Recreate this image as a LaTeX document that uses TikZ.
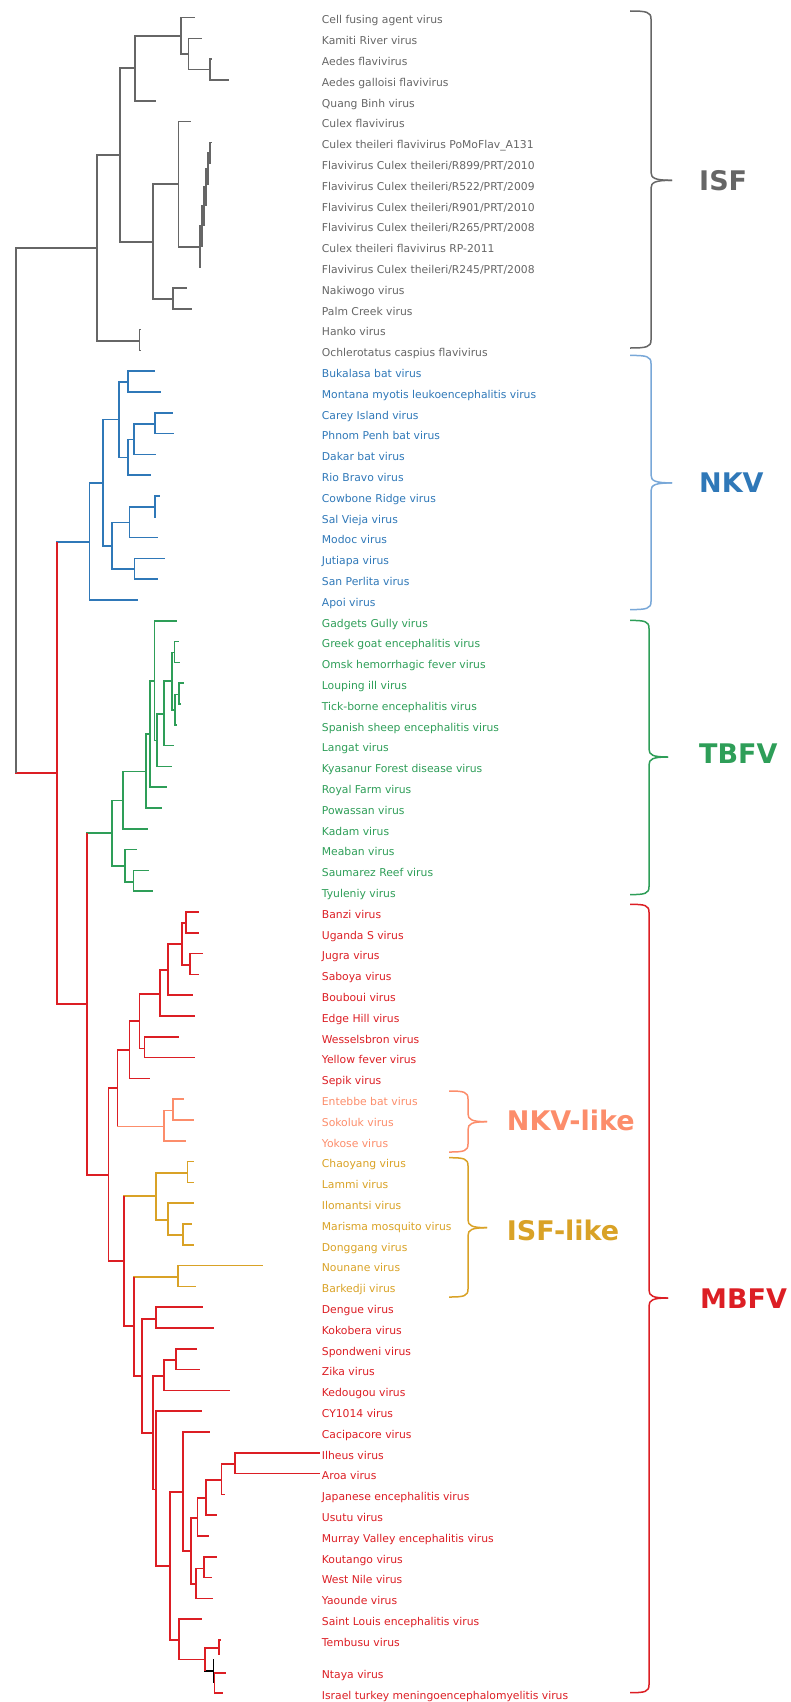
\documentclass[tikz,border=0pt]{standalone}
\usepackage{fontspec}
\setmainfont{DejaVu Sans}

\definecolor{isfc}{HTML}{666666}
\definecolor{nkvc}{HTML}{2F78B8}
\definecolor{nkvbr}{HTML}{79A8D8}
\definecolor{tbfvc}{HTML}{2E9E58}
\definecolor{mbfvc}{HTML}{DC1E24}
\definecolor{nkvlc}{HTML}{FC8D6B}
\definecolor{isflc}{HTML}{D9A226}

% brace: colour, x of the tips, top, middle, bottom, width
\newcommand\cladebrace[6]{%
  \draw[#1, line width=1.5pt] (#2,#3) .. controls ({#2+0.4*#6},#3) and ({#2+0.5*#6},{#3+1}) .. ({#2+0.5*#6},{#3+8})
    -- ({#2+0.5*#6},{#4-8}) .. controls ({#2+0.5*#6},{#4-2}) and ({#2+0.6*#6},#4) .. ({#2+#6},#4);
  \draw[#1, line width=1.5pt] ({#2+#6},#4) .. controls ({#2+0.6*#6},#4) and ({#2+0.5*#6},{#4+2}) .. ({#2+0.5*#6},{#4+8})
    -- ({#2+0.5*#6},{#5-8}) .. controls ({#2+0.5*#6},{#5-1}) and ({#2+0.4*#6},#5) .. (#2,#5);
}

\begin{document}
\begin{tikzpicture}[x=1pt, y=-1pt,
    branch/.style={line width=1.6pt},
    leaf/.style={anchor=base west, inner sep=0pt, font=\fontsize{10.8}{12}\selectfont},
    clade/.style={anchor=base west, inner sep=0pt, font=\fontsize{27}{30}\selectfont\bfseries}]
    \useasboundingbox (0,0) rectangle (791,1702);

    % inner nodes
    \coordinate (root) at (15.7,510);
    \coordinate (isf) at (96.7,247.7);
    \coordinate (i1) at (120,155);
    \coordinate (i2) at (135,68.3);
    \coordinate (i3) at (180.7,36);
    \coordinate (i4) at (188.3,54);
    \coordinate (i5) at (210,69.7);
    \coordinate (i6) at (152.7,241.7);
    \coordinate (i7) at (172.7,298.7);
    \coordinate (i8) at (178.3,184);
    \coordinate (i9) at (199.7,247);
    \coordinate (i10) at (201.7,226);
    \coordinate (i11) at (203.7,206);
    \coordinate (i12) at (205.7,186.7);
    \coordinate (i13) at (207.7,168.5);
    \coordinate (i14) at (209.7,152.8);
    \coordinate (i15) at (139.3,340.7);

    \coordinate (r1) at (56.7,772.7);
    \coordinate (nkv) at (89.3,541.7);
    \coordinate (k1) at (102.7,482.7);
    \coordinate (k2) at (118.7,419.3);
    \coordinate (k3) at (128,382);
    \coordinate (k4) at (127.7,457.3);
    \coordinate (k5) at (133.7,439.3);
    \coordinate (k6) at (154.7,424);
    \coordinate (k7) at (112,546);
    \coordinate (k8) at (129.3,522.3);
    \coordinate (k9) at (154.7,506.7);
    \coordinate (k10) at (134.3,569);

    \coordinate (r2) at (86.7,1004);
    \coordinate (tbfv) at (111.7,832.7);
    \coordinate (b1) at (122.7,800.3);
    \coordinate (b2) at (145.7,771.3);
    \coordinate (b3) at (149.7,734);
    \coordinate (b4) at (154.3,680.7);
    \coordinate (b5) at (157,740.3);
    \coordinate (b6) at (163.7,713.7);
    \coordinate (b7) at (171.7,680.7);
    \coordinate (b8) at (174.3,652.3);
    \coordinate (b9) at (174.7,710);
    \coordinate (b10) at (178.7,694.3);
    \coordinate (b11) at (124.7,866);
    \coordinate (b12) at (133.3,881.7);

    \coordinate (r3) at (108.3,1174.7);
    \coordinate (m1) at (117.3,1087.7);
    \coordinate (m2) at (129.3,1050);
    \coordinate (m3) at (139.3,1020.7);
    \coordinate (m4) at (159.7,993.7);
    \coordinate (m5) at (167.7,969.7);
    \coordinate (m6) at (181.7,943.7);
    \coordinate (m7) at (185.7,923);
    \coordinate (m8) at (189.7,965);
    \coordinate (m9) at (144.3,1048.3);
    \coordinate (s1) at (163.7,1126.3);
    \coordinate (s2) at (172.7,1110.3);
    \coordinate (r4) at (124,1261);
    \coordinate (g1) at (155.7,1196);
    \coordinate (g2) at (187.3,1172.7);
    \coordinate (g3) at (168,1220);
    \coordinate (g4) at (183,1235);
    \coordinate (r5) at (134,1326);
    \coordinate (g5) at (177.7,1276.7);
    \coordinate (r6) at (141.7,1375.7);
    \coordinate (m10) at (155.7,1318.7);
    \coordinate (r7) at (152.7,1432.7);
    \coordinate (m11) at (164,1375.7);
    \coordinate (m12) at (175.7,1360);
    \coordinate (r8) at (155.7,1489.3);
    \coordinate (r9) at (169.7,1566);
    \coordinate (m13) at (182.7,1491.7);
    \coordinate (m14) at (190.7,1551);
    \coordinate (m15) at (197.3,1517.7);
    \coordinate (m16) at (206,1498);
    \coordinate (m17) at (221.3,1479.7);
    \coordinate (m18) at (234.7,1464);
    \coordinate (m19) at (195.7,1584);
    \coordinate (m20) at (203.7,1568.3);
    \coordinate (r10) at (179,1640);
    \coordinate (r11) at (204.7,1659.3);
    \coordinate (m21) at (219,1647.7);
    \coordinate (m22) at (213.3,1671);
    \coordinate (m22a) at (213.3,1659);
    \coordinate (m22b) at (213.3,1683.3);
    \coordinate (m23) at (214.3,1683);
    \coordinate (tx) at (220,1654.3);

    % branches
    \foreach \p/\c in {root/isf, isf/i1, i1/i2, i2/i3, i3/i4, i4/i5, i1/i6, i6/i8, i6/i7,
        i8/i9, i9/i10, i10/i11, i11/i12, i12/i13, i13/i14, isf/i15}
        \draw[branch, isfc] (\p) |- (\c);
    \foreach \p/\c in {r1/nkv, nkv/k1, k1/k2, k2/k3, k2/k4, k4/k5, k5/k6, k1/k7, k7/k8, k8/k9, k7/k10}
        \draw[branch, nkvc] (\p) |- (\c);
    \foreach \p/\c in {r2/tbfv, tbfv/b1, b1/b2, b2/b3, b3/b4, b4/b5, b5/b6, b6/b7, b7/b8, b7/b9,
        b9/b10, tbfv/b11, b11/b12}
        \draw[branch, tbfvc] (\p) |- (\c);
    \foreach \p/\c in {root/r1, r1/r2, r2/r3, r3/m1, m1/m2, m2/m3, m3/m4, m4/m5, m5/m6, m6/m7, m6/m8,
        m3/m9, r3/r4, r4/r5, r5/r6, r6/m10, r6/r7, r7/m11, m11/m12, r7/r8, r8/r9, r9/m13, m13/m14,
        m14/m15, m15/m16, m16/m17, m17/m18, m14/m19, m19/m20, r9/r10, r10/r11, r11/m21, m21/tx}
        \draw[branch, mbfvc] (\p) |- (\c);
    \foreach \p/\c in {m1/s1, s1/s2}
        \draw[branch, nkvlc] (\p) |- (\c);
    \foreach \p/\c in {r4/g1, g1/g2, g1/g3, g3/g4, r5/g5}
        \draw[branch, isflc] (\p) |- (\c);
    \draw[line width=1.2pt, black] (r11) |- (m22);
    \draw[line width=1.2pt, black] (m22a) -- (m22b);

    % leaves
    \foreach \i/\tx/\p/\lab in {0/195/i3/Cell fusing agent virus, 1/202.3/i4/Kamiti River virus,
        2/212.3/i5/Aedes flavivirus, 3/229.3/i5/Aedes galloisi flavivirus, 4/155.7/i2/Quang Binh virus,
        5/191/i8/Culex flavivirus, 6/211.5/i14/Culex theileri flavivirus PoMoFlav\_A131,
        7/211/i14/{Flavivirus Culex theileri/R899/PRT/2010}, 8/209.3/i13/{Flavivirus Culex theileri/R522/PRT/2009},
        9/207.3/i12/{Flavivirus Culex theileri/R901/PRT/2010}, 10/205.3/i11/{Flavivirus Culex theileri/R265/PRT/2008},
        11/203.3/i10/Culex theileri flavivirus RP-2011, 12/200.5/i9/{Flavivirus Culex theileri/R245/PRT/2008},
        13/187.3/i7/Nakiwogo virus, 14/191.7/i7/Palm Creek virus, 15/141/i15/Hanko virus,
        16/141/i15/Ochlerotatus caspius flavivirus} {
        \coordinate (t\i) at (\tx,{17.6+20.8*\i});
        \draw[branch, isfc] (\p) |- (t\i);
        \node[leaf, text=isfc] (l\i) at (321.7,{23.8+20.8*\i}) {\lab};
    }
    \foreach \i/\tx/\p/\lab in {17/155/k3/Bukalasa bat virus, 18/160.7/k3/Montana myotis leukoencephalitis virus,
        19/172.7/k6/Carey Island virus, 20/173.7/k6/Phnom Penh bat virus, 21/155.7/k5/Dakar bat virus,
        22/150.7/k4/Rio Bravo virus, 23/159.7/k9/Cowbone Ridge virus, 24/156.3/k9/Sal Vieja virus,
        25/158.3/k8/Modoc virus, 26/164.7/k10/Jutiapa virus, 27/157.7/k10/San Perlita virus,
        28/138.3/nkv/Apoi virus} {
        \coordinate (t\i) at (\tx,{17.6+20.8*\i});
        \draw[branch, nkvc] (\p) |- (t\i);
        \node[leaf, text=nkvc] (l\i) at (321.7,{23.8+20.8*\i}) {\lab};
    }
    \foreach \i/\tx/\p/\lab in {29/177.3/b4/Gadgets Gully virus, 30/178.7/b8/Greek goat encephalitis virus,
        31/180/b8/Omsk hemorrhagic fever virus, 32/183.7/b10/Louping ill virus,
        33/180.7/b10/Tick-borne encephalitis virus, 34/177.3/b9/Spanish sheep encephalitis virus,
        35/174.3/b6/Langat virus, 36/171.7/b5/Kyasanur Forest disease virus, 37/166.7/b3/Royal Farm virus,
        38/161.7/b2/Powassan virus, 39/147.7/b1/Kadam virus, 40/136.7/b11/Meaban virus,
        41/148.7/b12/Saumarez Reef virus, 42/152.7/b12/Tyuleniy virus} {
        \coordinate (t\i) at (\tx,{17.6+20.8*\i});
        \draw[branch, tbfvc] (\p) |- (t\i);
        \node[leaf, text=tbfvc] (l\i) at (321.7,{23.8+20.8*\i}) {\lab};
    }
    \foreach \i/\tx/\p/\lab in {43/198.7/m7/Banzi virus, 44/198.7/m7/Uganda S virus, 45/203/m8/Jugra virus,
        46/199/m8/Saboya virus, 47/193.3/m5/Bouboui virus, 48/194.7/m4/Edge Hill virus,
        49/179/m9/Wesselsbron virus, 50/194.7/m9/Yellow fever virus, 51/150.3/m2/Sepik virus,
        62/203.3/m10/Dengue virus, 63/214/m10/Kokobera virus, 64/196.7/m12/Spondweni virus,
        65/200.3/m12/Zika virus, 66/230/m11/Kedougou virus, 67/202/r8/CY1014 virus,
        68/210/m13/Cacipacore virus, 69/320/m18/Ilheus virus, 70/320/m18/Aroa virus,
        71/224.7/m17/Japanese encephalitis virus, 72/217.3/m16/Usutu virus,
        73/209.3/m15/Murray Valley encephalitis virus, 74/216.7/m20/Koutango virus,
        75/211.7/m20/West Nile virus, 76/213.3/m19/Yaounde virus, 77/202.3/r10/Saint Louis encephalitis virus,
        78/220.7/m21/Tembusu virus} {
        \coordinate (t\i) at (\tx,{17.6+20.8*\i});
        \draw[branch, mbfvc] (\p) |- (t\i);
        \node[leaf, text=mbfvc] (l\i) at (321.7,{23.8+20.8*\i}) {\lab};
    }
    \foreach \i/\tx/\p/\lab in {52/183.7/s2/Entebbe bat virus, 53/194.3/s2/Sokoluk virus, 54/186/s1/Yokose virus} {
        \coordinate (t\i) at (\tx,{17.6+20.8*\i});
        \draw[branch, nkvlc] (\p) |- (t\i);
        \node[leaf, text=nkvlc] (l\i) at (321.7,{23.8+20.8*\i}) {\lab};
    }
    \foreach \i/\tx/\p/\lab in {55/194.3/g2/Chaoyang virus, 56/194.3/g2/Lammi virus, 57/194.3/g3/Ilomantsi virus,
        58/192/g4/Marisma mosquito virus, 59/193.7/g4/Donggang virus, 60/263/g5/Nounane virus,
        61/196/g5/Barkedji virus} {
        \coordinate (t\i) at (\tx,{17.6+20.8*\i});
        \draw[branch, isflc] (\p) |- (t\i);
        \node[leaf, text=isflc] (l\i) at (321.7,{23.8+20.8*\i}) {\lab};
    }
    \coordinate (t79) at (226,1672.7);
    \coordinate (t80) at (223,1693);
    \draw[branch, mbfvc] (m23) |- (t79);
    \draw[branch, mbfvc] (m23) |- (t80);
    \node[leaf, text=mbfvc] (l79) at (321.7,1678.9) {Ntaya virus};
    \node[leaf, text=mbfvc] (l80) at (321.7,1699.2) {Israel turkey meningoencephalomyelitis virus};

    % parent colour on mixed nodes
    \draw[branch, isfc] (root |- isf) -- (root |- r1);
    \draw[branch, mbfvc] (r1 |- nkv) -- (r1 |- r2);
    \draw[branch, mbfvc] (r2 |- tbfv) -- (r2 |- r3);
    \draw[branch, mbfvc] (m1 |- m2) -- (m1 |- s1);
    \draw[branch, mbfvc] (r4 |- g1) -- (r4 |- r5);
    \draw[branch, mbfvc] (r5 |- g5) -- (r5 |- r6);
    \draw[branch, mbfvc] (r11 |- m21) -- (r11 |- m22);

    % clade braces and names
    \cladebrace{isfc}{630}{11}{180.3}{348}{42}
    \cladebrace{nkvbr}{630}{355.4}{482.9}{609.6}{42}
    \cladebrace{tbfvc}{630}{620.4}{757}{894.6}{38}
    \cladebrace{mbfvc}{630}{904.3}{1298}{1692.7}{38}
    \cladebrace{nkvlc}{449}{1091}{1121.7}{1152}{38}
    \cladebrace{isflc}{449}{1157.7}{1227.7}{1297}{38}

    \node[clade, text=isfc] (ISF) at (699,190) {ISF};
    \node[clade, text=nkvc] (NKV) at (699,492) {NKV};
    \node[clade, text=tbfvc] (TBFV) at (699,763.6) {TBFV};
    \node[clade, text=mbfvc] (MBFV) at (700,1308) {MBFV};
    \node[clade, text=nkvlc] (NKVlike) at (506.7,1130) {NKV-like};
    \node[clade, text=isflc] (ISFlike) at (506.7,1240) {ISF-like};
\end{tikzpicture}
\end{document}
